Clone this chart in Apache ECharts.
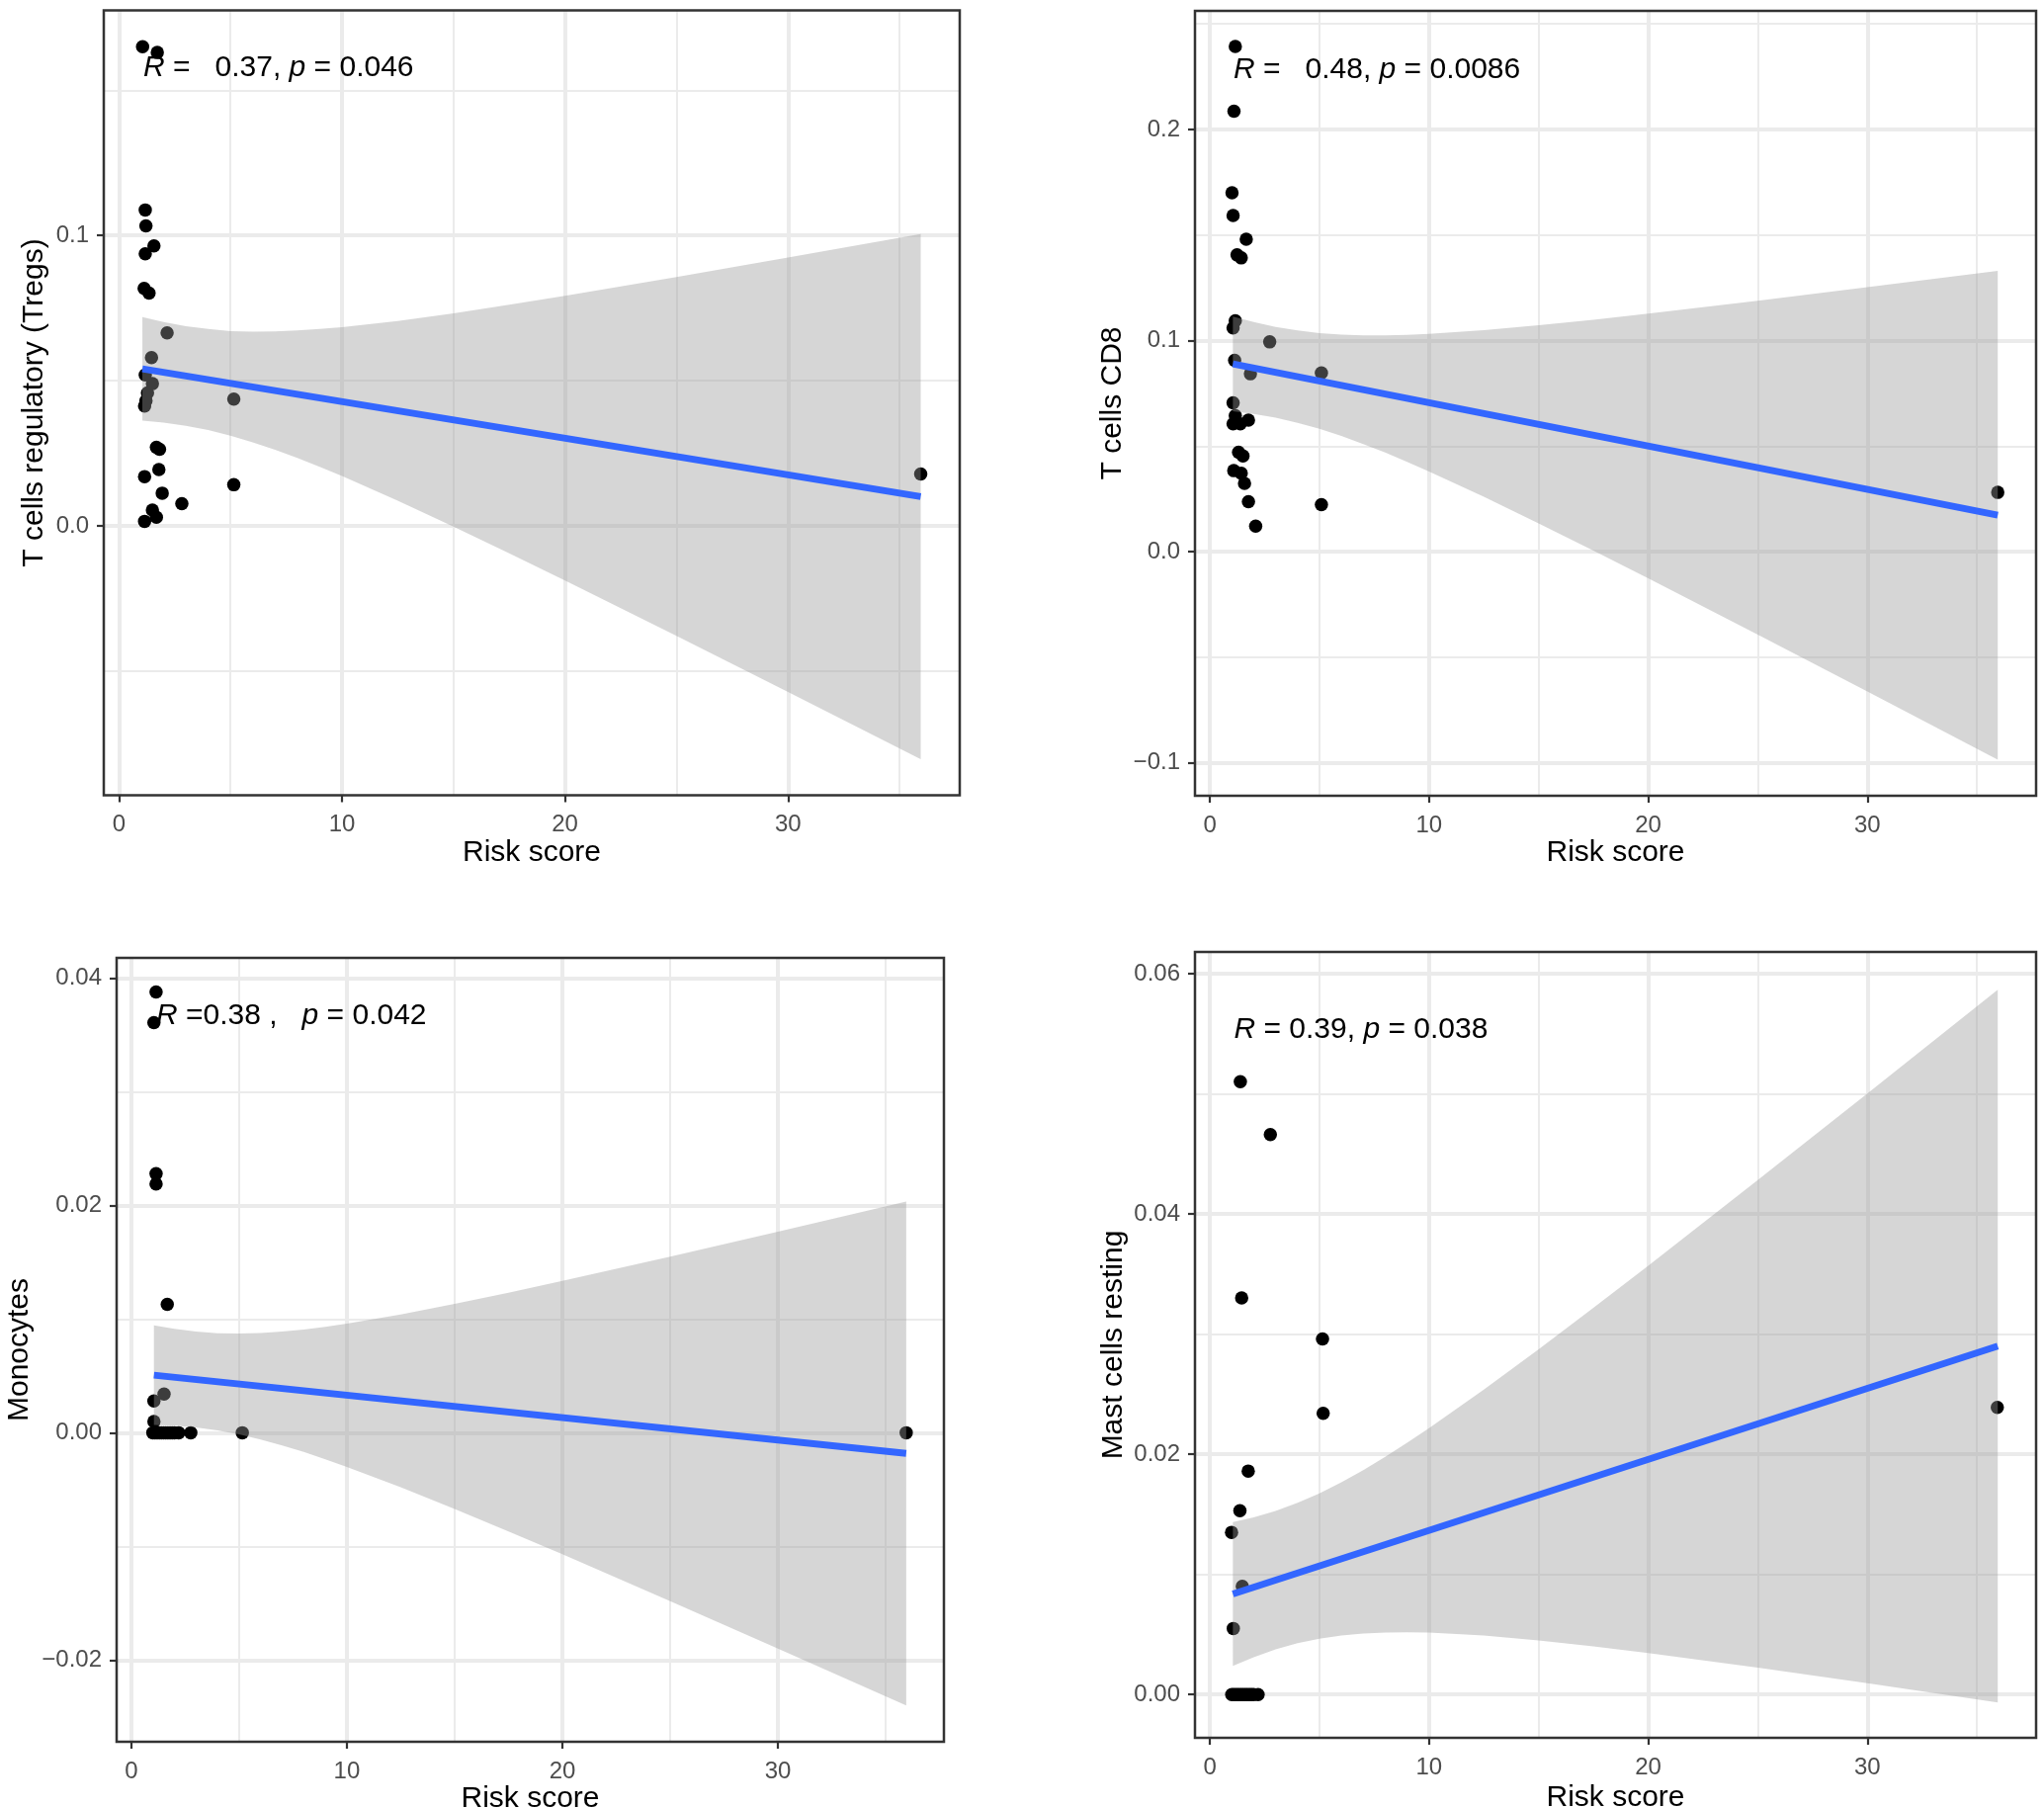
<!DOCTYPE html>
<html><head><meta charset="utf-8">
<script src="https://cdn.jsdelivr.net/npm/echarts@6/dist/echarts.min.js"></script>
<style>html,body{margin:0;padding:0;background:#fff}#c{width:2068px;height:1829px}</style>
</head><body><div id="c"></div><script>
const FONT = '"Liberation Sans", Arial, Helvetica, sans-serif';

// shared x axis (Risk score)
const xRange = [-0.68, 37.7];
const xMajorTicks = [0, 10, 20, 30];
const xMajorLabels = ['0', '10', '20', '30'];
const xMinorTicks = [5, 15, 25, 35];
const fitX = [1.05, 35.95];
const bandX = [1.05, 2, 3, 4, 5, 6, 7, 8, 9, 10, 12.5, 15, 17.5, 20, 25, 30, 35.95];

// Panel 1: T cells regulatory (Tregs)
const tregsRisk  = [1.06, 1.72, 1.18, 1.21, 1.57, 1.18, 1.13, 1.35, 2.16, 1.46, 1.18, 1.5, 1.28, 1.21, 1.15, 5.15, 1.68, 1.82, 1.15, 1.79, 1.94, 2.82, 5.15, 1.5, 1.68, 1.15, 35.95];
const tregsValue = [0.165, 0.163, 0.1088, 0.1033, 0.0964, 0.0937, 0.0818, 0.0802, 0.0665, 0.058, 0.052, 0.049, 0.0458, 0.0431, 0.0413, 0.0437, 0.0271, 0.0264, 0.017, 0.0194, 0.0113, 0.0077, 0.0142, 0.0055, 0.003, 0.0016, 0.0179];
const tregsFit = [0.0541, 0.0101];
const tregsBandHigh = [0.0719, 0.0702, 0.0688, 0.0678, 0.0671, 0.0669, 0.0670, 0.0673, 0.0678, 0.0684, 0.0706, 0.0732, 0.0762, 0.0792, 0.0857, 0.0924, 0.1005];
const tregsBandLow  = [0.0363, 0.0356, 0.0345, 0.0330, 0.0311, 0.0288, 0.0262, 0.0234, 0.0204, 0.0172, 0.0087, -0.0002, -0.0094, -0.0188, -0.0378, -0.0571, -0.0803];
const tregsYRange = [-0.0927, 0.1775];
const tregsYMajor = [0, 0.1];
const tregsYLabels = ['0.0', '0.1'];
const tregsYMinor = [-0.05, 0.05, 0.15];

// Panel 2: T cells CD8
const cd8Risk  = [1.16, 1.10, 1.01, 1.06, 1.66, 1.24, 1.43, 1.16, 1.06, 2.73, 1.13, 1.85, 5.09, 1.06, 1.16, 1.06, 1.39, 1.76, 1.31, 1.51, 1.09, 1.43, 1.58, 1.76, 5.09, 2.09, 35.95];
const cd8Value = [0.2393, 0.2087, 0.170, 0.1593, 0.148, 0.1406, 0.1392, 0.1094, 0.106, 0.0994, 0.0907, 0.0843, 0.0847, 0.0705, 0.0644, 0.0606, 0.0606, 0.0623, 0.0471, 0.0454, 0.0384, 0.0372, 0.0324, 0.0237, 0.0223, 0.0121, 0.0281];
const cd8Fit = [0.0890, 0.0173];
const cd8BandHigh = [0.1114, 0.1088, 0.1065, 0.1048, 0.1036, 0.1029, 0.1025, 0.1025, 0.1027, 0.1032, 0.1049, 0.1073, 0.1099, 0.1128, 0.1189, 0.1253, 0.1331];
const cd8BandLow  = [0.0666, 0.0653, 0.0635, 0.0611, 0.0582, 0.0548, 0.0510, 0.0470, 0.0426, 0.0380, 0.0260, 0.0134, 0.0005, -0.0126, -0.0393, -0.0662, -0.0985];
const cd8YRange = [-0.1156, 0.2562];
const cd8YMajor = [-0.1, 0, 0.1, 0.2];
const cd8YLabels = ['\u22120.1', '0.0', '0.1', '0.2'];
const cd8YMinor = [-0.05, 0.05, 0.15, 0.25];

// Panel 3: Monocytes
const monoRisk  = [1.15, 1.05, 1.15, 1.15, 1.67, 1.52, 1.05, 1.05, 1.0, 1.1, 1.2, 1.3, 1.4, 1.5, 1.6, 1.7, 1.8, 1.9, 2.0, 2.2, 2.76, 5.15, 35.95];
const monoValue = [0.0388, 0.0361, 0.0228, 0.0219, 0.0113, 0.0034, 0.0028, 0.001, 0, 0, 0, 0, 0, 0, 0, 0, 0, 0, 0, 0, 0, 0, 0];
const monoFit = [0.00507, -0.00182];
const monoBandHigh = [0.00946, 0.00914, 0.00890, 0.00876, 0.00873, 0.00878, 0.00890, 0.00909, 0.00933, 0.00960, 0.01041, 0.01134, 0.01232, 0.01336, 0.01550, 0.01770, 0.02036];
const monoBandLow  = [0.00068, 0.00062, 0.00046, 0.00020, -0.00015, -0.00060, -0.00112, -0.00169, -0.00233, -0.00300, -0.00479, -0.00670, -0.00868, -0.01070, -0.01482, -0.01900, -0.02400];
const monoYRange = [-0.0272, 0.0418];
const monoYMajor = [-0.02, 0, 0.02, 0.04];
const monoYLabels = ['\u22120.02', '0.00', '0.02', '0.04'];
const monoYMinor = [-0.01, 0.01, 0.03];

// Panel 4: Mast cells resting
const mastRisk  = [1.39, 2.76, 1.45, 5.14, 5.17, 1.75, 1.37, 0.99, 1.48, 1.07, 1.0, 1.1, 1.2, 1.3, 1.4, 1.5, 1.6, 1.7, 1.8, 1.9, 2.0, 2.2, 35.93];
const mastValue = [0.051, 0.0466, 0.033, 0.0296, 0.0234, 0.0186, 0.0153, 0.0135, 0.009, 0.0055, 0, 0, 0, 0, 0, 0, 0, 0, 0, 0, 0, 0, 0.0239];
const mastFit = [0.00837, 0.0290];
const mastBandHigh = [0.01436, 0.01475, 0.01528, 0.01595, 0.01675, 0.01767, 0.01868, 0.01978, 0.02095, 0.02216, 0.02537, 0.02873, 0.03218, 0.03569, 0.04282, 0.05002, 0.05866];
const mastBandLow  = [0.00238, 0.00311, 0.00376, 0.00427, 0.00465, 0.00491, 0.00508, 0.00517, 0.00519, 0.00516, 0.00491, 0.00451, 0.00401, 0.00345, 0.00224, 0.00094, -0.00066];
const mastYRange = [-0.0036, 0.0618];
const mastYMajor = [0, 0.02, 0.04, 0.06];
const mastYLabels = ['0.00', '0.02', '0.04', '0.06'];
const mastYMinor = [0.01, 0.03, 0.05];

const yTitles = ['T cells regulatory (Tregs)', 'T cells CD8', 'Monocytes', 'Mast cells resting'];
const xTitle = 'Risk score';
const annotations = [
  '{i|R} =   0.37, {i|p} = 0.046',
  '{i|R} =   0.48, {i|p} = 0.0086',
  '{i|R} =0.38 ,   {i|p} = 0.042',
  '{i|R} = 0.39, {i|p} = 0.038'
];

const panels = [
  {risk: tregsRisk, val: tregsValue, fit: tregsFit, hi: tregsBandHigh, lo: tregsBandLow, yr: tregsYRange, ym: tregsYMajor, yl: tregsYLabels, yn: tregsYMinor,
   grid: {left: 105, top: 10.5, width: 866, height: 794}, yGap: 55, xGap: 41.5, note: [145, 68.5]},
  {risk: cd8Risk, val: cd8Value, fit: cd8Fit, hi: cd8BandHigh, lo: cd8BandLow, yr: cd8YRange, ym: cd8YMajor, yl: cd8YLabels, yn: cd8YMinor,
   grid: {left: 1209, top: 11, width: 851, height: 794}, yGap: 68, xGap: 41.5, note: [1248, 70.5]},
  {risk: monoRisk, val: monoValue, fit: monoFit, hi: monoBandHigh, lo: monoBandLow, yr: monoYRange, ym: monoYMajor, yl: monoYLabels, yn: monoYMinor,
   grid: {left: 118, top: 969, width: 837, height: 793}, yGap: 83, xGap: 42, note: [158, 1027.5]},
  {risk: mastRisk, val: mastValue, fit: mastFit, hi: mastBandHigh, lo: mastBandLow, yr: mastYRange, ym: mastYMajor, yl: mastYLabels, yn: mastYMinor,
   grid: {left: 1209, top: 963, width: 851, height: 795}, yGap: 67, xGap: 46, note: [1248.5, 1042]}
];

function labelFor(values, labels) {
  return function (v) {
    for (let i = 0; i < values.length; i++) if (Math.abs(values[i] - v) < 1e-9) return labels[i];
    return '';
  };
}

const grids = [], xAxes = [], yAxes = [], series = [], graphics = [];
const tickLine = {color: '#333333', width: 2.2};
const xLabelStyle = {color: '#4D4D4D', fontSize: 24, fontFamily: FONT, margin: 18};
const yLabelStyle = {color: '#4D4D4D', fontSize: 24, fontFamily: FONT, margin: 15};
const nameStyle = {color: '#000000', fontSize: 30, fontFamily: FONT};

panels.forEach(function (p, g) {
  grids.push(Object.assign({show: true, borderColor: '#333333', borderWidth: 2.5, backgroundColor: 'transparent', z: 10,
    containLabel: false, outerBoundsMode: 'none'}, p.grid));
  xAxes.push({
    type: 'value', gridIndex: g, min: xRange[0], max: xRange[1], position: 'bottom',
    axisLine: {show: false, onZero: false},
    axisTick: {show: true, customValues: xMajorTicks, length: 7, lineStyle: tickLine},
    axisLabel: Object.assign({customValues: xMajorTicks, formatter: labelFor(xMajorTicks, xMajorLabels)}, xLabelStyle),
    splitLine: {show: true, lineStyle: {color: '#EBEBEB', width: 4}},
    name: xTitle, nameLocation: 'middle', nameGap: p.xGap, nameTextStyle: nameStyle
  });
  xAxes.push({
    type: 'value', gridIndex: g, min: xRange[0], max: xRange[1], position: 'top',
    axisLine: {show: false, onZero: false},
    axisTick: {show: false, customValues: xMinorTicks},
    axisLabel: {show: false, customValues: xMinorTicks},
    splitLine: {show: true, lineStyle: {color: '#EBEBEB', width: 2}}
  });
  yAxes.push({
    type: 'value', gridIndex: g, min: p.yr[0], max: p.yr[1], position: 'left',
    axisLine: {show: false, onZero: false},
    axisTick: {show: true, customValues: p.ym, length: 7, lineStyle: tickLine},
    axisLabel: Object.assign({customValues: p.ym, formatter: labelFor(p.ym, p.yl)}, yLabelStyle),
    splitLine: {show: true, lineStyle: {color: '#EBEBEB', width: 4}},
    name: yTitles[g], nameLocation: 'middle', nameGap: p.yGap, nameTextStyle: nameStyle
  });
  yAxes.push({
    type: 'value', gridIndex: g, min: p.yr[0], max: p.yr[1], position: 'right',
    axisLine: {show: false, onZero: false},
    axisTick: {show: false, customValues: p.yn},
    axisLabel: {show: false, customValues: p.yn},
    splitLine: {show: true, lineStyle: {color: '#EBEBEB', width: 2}}
  });
  series.push({
    type: 'scatter', xAxisIndex: 2 * g, yAxisIndex: 2 * g, z: 2, silent: true,
    symbolSize: 13.5, itemStyle: {color: '#000000', opacity: 1},
    data: p.risk.map(function (x, i) { return [x, p.val[i]]; })
  });
  const hi = p.hi, lo = p.lo;
  series.push({
    type: 'custom', xAxisIndex: 2 * g, yAxisIndex: 2 * g, z: 3, silent: true,
    data: bandX.map(function (x, i) { return [x, lo[i], hi[i]]; }),
    encode: {x: 0, y: [1, 2]},
    renderItem: function (params, api) {
      if (params.dataIndex !== 0) return null;
      const top = bandX.map(function (x, i) { return api.coord([x, hi[i]]); });
      const bot = bandX.map(function (x, i) { return api.coord([x, lo[i]]); }).reverse();
      return {type: 'polygon', shape: {points: top.concat(bot)}, style: {fill: 'rgba(153,153,153,0.4)', stroke: null}};
    }
  });
  series.push({
    type: 'line', xAxisIndex: 2 * g, yAxisIndex: 2 * g, z: 4, silent: true,
    symbol: 'none', lineStyle: {color: '#3366FF', width: 7, cap: 'butt'},
    data: fitX.map(function (x, i) { return [x, p.fit[i]]; })
  });
  graphics.push({
    type: 'text', x: p.note[0], y: p.note[1], z: 20, silent: true,
    style: {
      text: annotations[g], fill: '#000000', fontSize: 30, fontFamily: FONT, verticalAlign: 'middle', align: 'left',
      rich: {i: {fontStyle: 'italic', fontSize: 30, fontFamily: FONT, fill: '#000000'}}
    }
  });
});

const chart = echarts.init(document.getElementById('c'), null, {renderer: 'canvas'});
chart.setOption({
  animation: false,
  backgroundColor: '#ffffff',
  grid: grids, xAxis: xAxes, yAxis: yAxes, series: series, graphic: graphics
});
</script></body></html>
